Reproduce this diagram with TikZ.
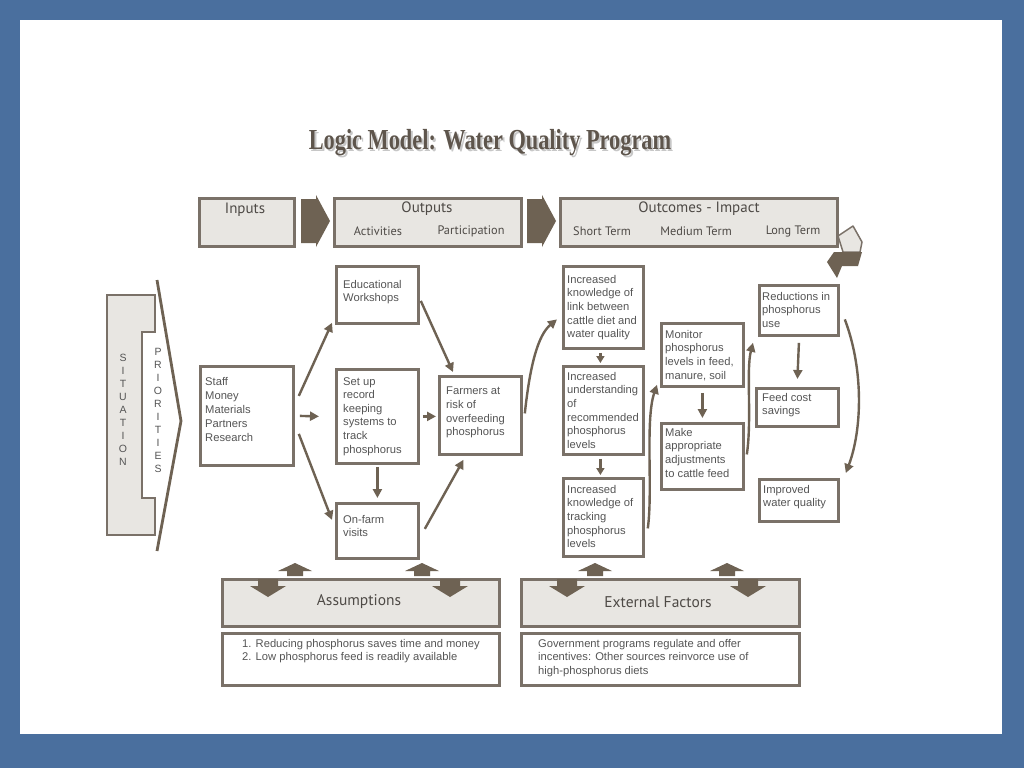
\documentclass[tikz,border=0pt]{standalone}
\usepackage{fontspec}
\setmainfont{Liberation Sans}
\newfontfamily\hdfont{PT Sans}
\newfontfamily\titlefont{Liberation Serif}
\usetikzlibrary{arrows.meta,calc}
\definecolor{slideblue}{HTML}{4A6F9E}
\definecolor{edgec}{HTML}{7A7168}
\definecolor{arr}{HTML}{6E6253}
\definecolor{panel}{HTML}{E8E6E2}
\definecolor{txt}{HTML}{555555}
\definecolor{hdtxt}{HTML}{4E4A46}
\definecolor{titlec}{HTML}{5E554C}
\begin{document}
\begin{tikzpicture}[x=1pt,y=-1pt,
  box/.style={draw=edgec,line width=2.8pt,fill=white,anchor=north west,inner sep=0pt},
  gbox/.style={box,fill=panel},
  btxt/.style={anchor=north west,align=left,font=\fontsize{11.2}{13.6}\selectfont,text=txt,inner sep=0pt},
  hd/.style={font=\hdfont\fontsize{15}{17}\selectfont,text=hdtxt,inner sep=0pt},
  sub/.style={font=\hdfont\fontsize{12.3}{14}\selectfont,text=hdtxt,inner sep=0pt},
  vert/.style={align=center,font=\fontsize{10.5}{13}\selectfont,text=txt,inner sep=0pt},
  flow/.style={draw=arr,line width=2.4pt,-{Triangle[length=9pt,width=9pt]}},
  sflow/.style={draw=arr,line width=2.4pt,-{Triangle[length=7pt,width=8pt]}},
  uparr/.pic={\fill[arr] (-8,13)--(-8,8)--(-17,8)--(0,0)--(17,8)--(8,8)--(8,13)--cycle;},
  dnarr/.pic={\fill[arr] (-10,-18)--(-10,-11)--(-18,-11)--(0,0)--(18,-11)--(10,-11)--(10,-18)--cycle;},
]
\useasboundingbox (0,0) rectangle (1024,768);
\fill[slideblue] (0,0) rectangle (1024,768);
\fill[white] (20,20) rectangle (1002,734);

% title
\node[font=\titlefont\bfseries\fontsize{29}{31}\selectfont,text=black!22,inner sep=0pt] (titsh) at (492,145) {\scalebox{0.77}[1]{Logic Model: Water Quality Program}};
\node[font=\titlefont\bfseries\fontsize{29}{31}\selectfont,text=titlec,inner sep=0pt] (tit) at (490,143) {\scalebox{0.77}[1]{Logic Model: Water Quality Program}};

% header row
\node[gbox,minimum width=95pt,minimum height=48pt] (inH) at (198,197) {};
\node[gbox,minimum width=187pt,minimum height=48pt] (outH) at (333,197) {};
\node[gbox,minimum width=277pt,minimum height=48pt] (ocH) at (559,197) {};
\node[hd] (inHt) at (245,210) {Inputs};
\node[hd] (outHt) at (427,209) {Outputs};
\node[sub] (act) at (378,231) {Activities};
\node[sub] (par) at (471,231) {Participation};
\node[hd] (ocHt) at (699,209) {Outcomes - Impact};
\node[sub] (st) at (602,231) {Short Term};
\node[sub] (mt) at (696,231) {Medium Term};
\node[sub] (lt) at (793,231) {Long Term};
\fill[arr] (301,199)--(316,199)--(316,195)--(330,221)--(316,247)--(316,243)--(301,243)--cycle;
\fill[arr] (527,199)--(542,199)--(542,195)--(556,221)--(542,247)--(542,243)--(527,243)--cycle;
% U-turn icon
\draw[edgec,fill=panel,line width=1.5pt,line join=round] (838,236)--(853,226)--(862,242)--(860,252)--(843,252)--cycle;
\fill[arr] (827,262)--(834,252)--(862,252)--(858,266)--(842,266)--(837,278)--cycle;

% situation / priorities
\draw[edgec,fill=panel,line width=2.8pt] (107,295)--(155,295)--(155,332)--(142,332)--(142,498)--(155,498)--(155,535)--(107,535)--cycle;
\draw[arr,line width=2.8pt] (157,280)--(181,421)--(157,551);
\node[vert] (sit) at (123,410) {S\\I\\T\\U\\A\\T\\I\\O\\N};
\node[vert] (pri) at (158,410) {P\\R\\I\\O\\R\\I\\T\\I\\E\\S};

% inputs
\node[box,minimum width=93pt,minimum height=99pt] (inp) at (199,365) {};
\node[btxt,font=\fontsize{11.2}{14}\selectfont] (inpt) at (205,377) {Staff\\Money\\Materials\\Partners\\Research};

% outputs
\node[box,minimum width=82pt,minimum height=57pt] (edu) at (335,265) {};
\node[btxt] (edut) at (343,280) {Educational\\Workshops};
\node[box,minimum width=82pt,minimum height=94pt] (setup) at (335,368) {};
\node[btxt] (setupt) at (343,377) {Set up\\record\\keeping\\systems to\\track\\phosphorus};
\node[box,minimum width=82pt,minimum height=55pt] (onf) at (335,502) {};
\node[btxt] (onft) at (343,515) {On-farm\\visits};
\node[box,minimum width=82pt,minimum height=78pt] (far) at (438,375) {};
\node[btxt] (fart) at (446,387) {Farmers at\\risk of\\overfeeding\\phosphorus};

% outcomes
\node[box,minimum width=80pt,minimum height=82pt] (A) at (562,265) {};
\node[btxt] (At) at (567,275) {Increased\\knowledge of\\link between\\cattle diet and\\water quality};
\node[box,minimum width=80pt,minimum height=88pt] (B) at (562,365) {};
\node[btxt] (Bt) at (567,372) {Increased\\understanding\\of\\recommended\\phosphorus\\levels};
\node[box,minimum width=80pt,minimum height=78pt] (C) at (562,477) {};
\node[btxt] (Ct) at (567,485) {Increased\\knowledge of\\tracking\\phosphorus\\levels};
\node[box,minimum width=82pt,minimum height=63pt] (mon) at (660,322) {};
\node[btxt] (mont) at (665,330) {Monitor\\phosphorus\\levels in feed,\\manure, soil};
\node[box,minimum width=82pt,minimum height=66pt] (make) at (660,422) {};
\node[btxt] (maket) at (665,428) {Make\\appropriate\\adjustments\\to cattle feed};
\node[box,minimum width=79pt,minimum height=50pt] (red) at (758,284) {};
\node[btxt] (redt) at (762,292) {Reductions in\\phosphorus\\use};
\node[box,minimum width=82pt,minimum height=38pt] (feed) at (755,387) {};
\node[btxt] (feedt) at (762,393) {Feed cost\\savings};
\node[box,minimum width=79pt,minimum height=42pt] (imp) at (758,478) {};
\node[btxt] (impt) at (763,485) {Improved\\water quality};

% connectors
\draw[flow] ($(inp.east)+(4,-20)$) -- ($(edu.south west)+(-3,-2)$);
\draw[flow] ($(inp.east)+(5,0)$) -- ($(setup.west)+(-16,0)$);
\draw[flow] ($(inp.east)+(4,18)$) -- ($(onf.west)+(-3,-11)$);
\draw[flow] ($(edu.east)+(1,6)$) -- ($(far.north west)+(15,-3)$);
\draw[flow] ($(setup.east)+(3,0)$) -- ($(far.west)+(-2,1)$);
\draw[flow] ($(setup.south)+(0,2)$) -- ($(onf.north)+(0,-4)$);
\draw[flow] ($(onf.east)+(5,-2)$) -- ($(far.south)+(-17,4)$);
\draw[flow] ($(far.east)+(2,-2)$) .. controls (530,365) and (538,335) .. ($(A.west)+(-5,12)$);
\draw[sflow] ($(A.south)+(-3,3)$) -- ($(B.north)+(-3,-2)$);
\draw[sflow] ($(B.south)+(-3,3)$) -- ($(C.north)+(-3,-2)$);
\draw[flow] ($(C.east)+(3,11)$) .. controls (653,490) and (645,420) .. ($(mon.south west)+(-3,-3)$);
\draw[flow] ($(mon.south)+(0,5)$) -- ($(make.north)+(0,-4)$);
\draw[flow] ($(make.east)+(2,-2)$) .. controls (752,420) and (746,370) .. ($(red.south west)+(-5,6)$);
\draw[flow] ($(red.south)+(0,6)$) -- ($(feed.north)+(0,-8)$);
\draw[flow] ($(red.east)+(5,9)$) .. controls (864,370) and (862,430) .. ($(imp.north east)+(6,-5)$);

% assumptions / external factors
\node[gbox,minimum width=277pt,minimum height=47pt] (asm) at (221,578) {};
\node[hd,font=\hdfont\fontsize{15.5}{17}\selectfont] (asmt) at (359,602) {Assumptions};
\node[box,minimum width=277pt,minimum height=52pt] (asmb) at (221,632) {};
\node[btxt] (asmbt) at (242,639) {1. Reducing phosphorus saves time and money\\2. Low phosphorus feed is readily available};
\node[gbox,minimum width=278pt,minimum height=47pt] (ext) at (520,578) {};
\node[hd,font=\hdfont\fontsize{15.5}{17}\selectfont] (extt) at (658,602) {External Factors};
\node[box,minimum width=278pt,minimum height=52pt] (extb) at (520,632) {};
\node[btxt] (extbt) at (538,639) {Government programs regulate and offer\\incentives: Other sources reinvorce use of\\high-phosphorus diets};

\pic at (295,563) {uparr};
\pic at (268,597) {dnarr};
\pic at (422,563) {uparr};
\pic at (450,597) {dnarr};
\pic at (595,563) {uparr};
\pic at (567,597) {dnarr};
\pic at (727,563) {uparr};
\pic at (748,597) {dnarr};
\end{tikzpicture}
\end{document}
